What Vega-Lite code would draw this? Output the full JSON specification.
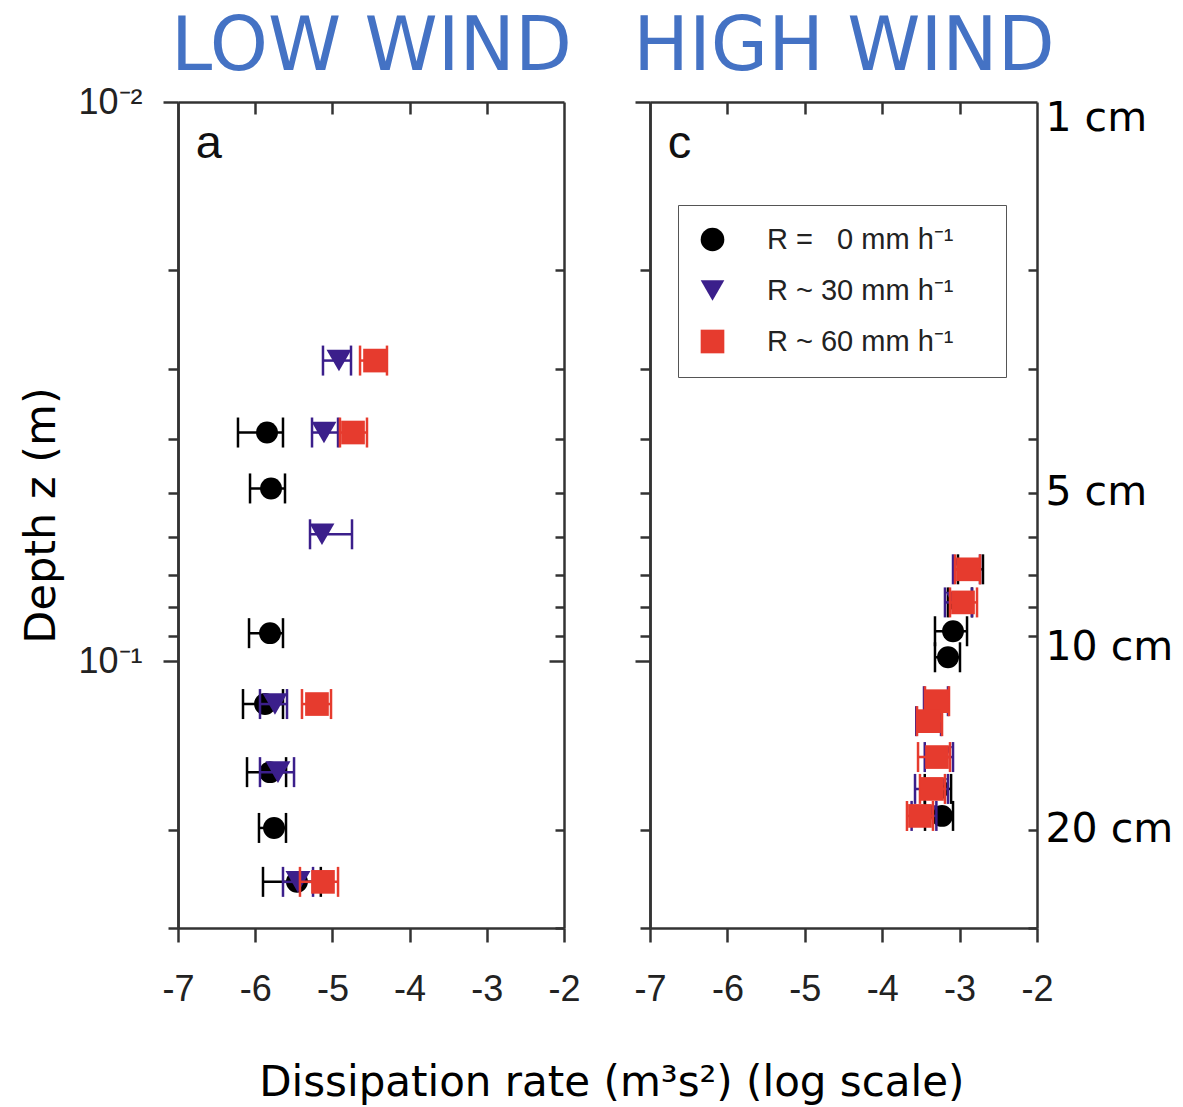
{
  "$schema": "https://vega.github.io/schema/vega-lite/v6.json",
  "padding": {"left": 20, "top": 10, "right": 5, "bottom": 5},
  "background": "white",
  "data": {"values": [
    {"panel": "a", "R": "0", "z": 0.0390, "x": -5.847, "lo": -6.223, "hi": -5.640},
    {"panel": "a", "R": "0", "z": 0.0491, "x": -5.795, "lo": -6.067, "hi": -5.614},
    {"panel": "a", "R": "0", "z": 0.0891, "x": -5.808, "lo": -6.080, "hi": -5.640},
    {"panel": "a", "R": "0", "z": 0.1193, "x": -5.873, "lo": -6.158, "hi": -5.640},
    {"panel": "a", "R": "0", "z": 0.1579, "x": -5.808, "lo": -6.106, "hi": -5.600},
    {"panel": "a", "R": "0", "z": 0.1987, "x": -5.756, "lo": -5.951, "hi": -5.601},
    {"panel": "a", "R": "0", "z": 0.2481, "x": -5.459, "lo": -5.899, "hi": -5.150},
    {"panel": "a", "R": "30", "z": 0.0290, "x": -4.915, "lo": -5.122, "hi": -4.759},
    {"panel": "a", "R": "30", "z": 0.0390, "x": -5.109, "lo": -5.264, "hi": -4.927},
    {"panel": "a", "R": "30", "z": 0.0593, "x": -5.135, "lo": -5.290, "hi": -4.746},
    {"panel": "a", "R": "30", "z": 0.1193, "x": -5.744, "lo": -5.938, "hi": -5.588},
    {"panel": "a", "R": "30", "z": 0.1579, "x": -5.705, "lo": -5.938, "hi": -5.497},
    {"panel": "a", "R": "30", "z": 0.2481, "x": -5.446, "lo": -5.640, "hi": -5.251},
    {"panel": "a", "R": "60", "z": 0.0290, "x": -4.448, "lo": -4.642, "hi": -4.293},
    {"panel": "a", "R": "60", "z": 0.0390, "x": -4.733, "lo": -4.902, "hi": -4.552},
    {"panel": "a", "R": "60", "z": 0.1193, "x": -5.200, "lo": -5.394, "hi": -5.018},
    {"panel": "a", "R": "60", "z": 0.2481, "x": -5.122, "lo": -5.420, "hi": -4.927},
    {"panel": "c", "R": "0", "z": 0.0685, "x": -2.866, "lo": -3.021, "hi": -2.698},
    {"panel": "c", "R": "0", "z": 0.0785, "x": -2.995, "lo": -3.150, "hi": -2.840},
    {"panel": "c", "R": "0", "z": 0.0884, "x": -3.085, "lo": -3.318, "hi": -2.904},
    {"panel": "c", "R": "0", "z": 0.0984, "x": -3.150, "lo": -3.318, "hi": -2.995},
    {"panel": "c", "R": "0", "z": 0.1692, "x": -3.280, "lo": -3.450, "hi": -3.110},
    {"panel": "c", "R": "0", "z": 0.1891, "x": -3.227, "lo": -3.447, "hi": -3.085},
    {"panel": "c", "R": "30", "z": 0.0685, "x": -2.930, "lo": -3.085, "hi": -2.736},
    {"panel": "c", "R": "30", "z": 0.0785, "x": -3.021, "lo": -3.189, "hi": -2.840},
    {"panel": "c", "R": "30", "z": 0.1179, "x": -3.300, "lo": -3.460, "hi": -3.150},
    {"panel": "c", "R": "30", "z": 0.1280, "x": -3.400, "lo": -3.560, "hi": -3.240},
    {"panel": "c", "R": "30", "z": 0.1484, "x": -3.253, "lo": -3.450, "hi": -3.085},
    {"panel": "c", "R": "30", "z": 0.1692, "x": -3.318, "lo": -3.576, "hi": -3.150},
    {"panel": "c", "R": "30", "z": 0.1891, "x": -3.450, "lo": -3.620, "hi": -3.300},
    {"panel": "c", "R": "60", "z": 0.0685, "x": -2.891, "lo": -3.059, "hi": -2.736},
    {"panel": "c", "R": "60", "z": 0.0785, "x": -2.956, "lo": -3.124, "hi": -2.775},
    {"panel": "c", "R": "60", "z": 0.1179, "x": -3.292, "lo": -3.447, "hi": -3.137},
    {"panel": "c", "R": "60", "z": 0.1280, "x": -3.395, "lo": -3.550, "hi": -3.227},
    {"panel": "c", "R": "60", "z": 0.1484, "x": -3.292, "lo": -3.537, "hi": -3.124},
    {"panel": "c", "R": "60", "z": 0.1692, "x": -3.357, "lo": -3.512, "hi": -3.189},
    {"panel": "c", "R": "60", "z": 0.1891, "x": -3.512, "lo": -3.680, "hi": -3.344}
  ]},
  "title": {"text": "Dissipation rate (m³s²) (log scale)", "orient": "bottom", "anchor": "middle", "font": "DejaVu Sans", "fontSize": 42, "fontWeight": "normal", "color": "#000", "offset": 56, "dx": 15},
  "spacing": 51,
  "resolve": {"scale": {"color": "independent", "shape": "independent"}},
  "hconcat": [
    {
      "width": 386, "height": 826,
      "transform": [{"filter": "datum.panel == 'a'"}],
      "resolve": {"axis": {"x": "independent", "y": "independent"}},
      "layer": [
        {"transform": [{"filter": "datum.R == '0'"}], "mark": {"type": "rule", "strokeWidth": 2.5},
         "encoding": {
           "x": {"field": "lo", "type": "quantitative", "scale": {"domain": [-7, -2], "nice": false, "zero": false},
                 "axis": {"orient": "bottom", "values": [-7, -6, -5, -4, -3, -2], "labelExpr": "toString(datum.value)", "labelFont": "Liberation Sans", "labelFontSize": 36, "labelColor": "#222", "labelFlush": false, "labelOverlap": false, "labelPadding": 30, "tickSize": 14, "tickWidth": 2.5, "tickColor": "#333", "domainColor": "#333", "domainWidth": 2.5, "grid": false, "title": null}},
           "x2": {"field": "hi"},
           "y": {"field": "z", "type": "quantitative", "scale": {"type": "log", "domain": [0.01, 0.3], "reverse": true, "nice": false},
                 "axis": {"orient": "left", "values": [0.01, 0.1], "labelExpr": "datum.value < 0.05 ? '10⁻²' : '10⁻¹'", "labelFont": "Liberation Sans", "labelFontSize": 36, "labelColor": "#222", "labelPadding": 21, "labelOverlap": false, "labelFlush": false, "tickSize": 15, "tickWidth": 2.5, "tickColor": "#333", "domainColor": "#333", "domainWidth": 2.5, "grid": false, "title": "Depth z (m)", "titleFont": "DejaVu Sans", "titleFontSize": 43, "titleFontWeight": "normal", "titleColor": "#000", "titlePadding": 14}},
           "color": {"field": "R", "type": "nominal", "scale": {"domain": ["0", "30", "60"], "range": ["#000000", "#3b1f8b", "#e63b2e"]}, "legend": null}
         }},
        {"transform": [{"filter": "datum.R == '0'"}, {"fold": ["lo", "hi"], "as": ["end", "xe"]}], "mark": {"type": "tick", "orient": "vertical", "size": 30, "thickness": 2.5, "opacity": 1},
         "encoding": {
           "x": {"field": "xe", "type": "quantitative", "scale": {"domain": [-7, -2], "nice": false, "zero": false},
                 "axis": {"orient": "top", "values": [-6, -5, -4, -3], "labels": false, "tickSize": -12, "tickWidth": 2.5, "tickColor": "#333", "domainColor": "#333", "domainWidth": 2.5, "grid": false,
                          "title": "LOW WIND", "titleFont": "DejaVu Sans", "titleFontSize": 74, "titleFontWeight": "normal", "titleColor": "#4472C4", "titleBaseline": "alphabetic", "titlePadding": 31}},
           "y": {"field": "z", "type": "quantitative", "scale": {"type": "log", "domain": [0.01, 0.3], "reverse": true, "nice": false},
                 "axis": {"orient": "left", "values": [0.02, 0.03, 0.04, 0.05, 0.06, 0.07, 0.08, 0.09, 0.2, 0.3], "labels": false, "tickSize": 10, "tickWidth": 2.5, "tickColor": "#333", "domainColor": "#333", "domainWidth": 2.5, "grid": false, "title": null}},
           "color": {"field": "R", "type": "nominal", "legend": null}
         }},
        {"transform": [{"filter": "datum.R == '0'"}], "mark": {"type": "point", "filled": true, "size": 480, "opacity": 1},
         "encoding": {
           "x": {"field": "x", "type": "quantitative", "axis": null},
           "y": {"field": "z", "type": "quantitative",
                 "axis": {"orient": "right", "values": [0.02, 0.03, 0.04, 0.05, 0.06, 0.07, 0.08, 0.09, 0.2, 0.3], "labels": false, "tickSize": -9, "tickWidth": 2.5, "tickColor": "#333", "domainColor": "#333", "domainWidth": 2.5, "grid": false, "title": null}},
           "color": {"field": "R", "type": "nominal", "legend": null},
           "shape": {"field": "R", "type": "nominal", "scale": {"domain": ["0", "30", "60"], "range": ["circle", "triangle-down", "square"]}, "legend": null}
         }},
        {"transform": [{"filter": "datum.R == '30'"}], "mark": {"type": "rule", "strokeWidth": 2.5},
         "encoding": {
           "x": {"field": "lo", "type": "quantitative", "axis": null},
           "x2": {"field": "hi"},
           "y": {"field": "z", "type": "quantitative",
                 "axis": {"orient": "right", "values": [0.1], "labels": false, "tickSize": -15, "tickWidth": 2.5, "tickColor": "#333", "domain": false, "grid": false, "title": null}},
           "color": {"field": "R", "type": "nominal", "legend": null}
         }},
        {"transform": [{"filter": "datum.R == '30'"}, {"fold": ["lo", "hi"], "as": ["end", "xe"]}], "mark": {"type": "tick", "orient": "vertical", "size": 30, "thickness": 2.5, "opacity": 1},
         "encoding": {
           "x": {"field": "xe", "type": "quantitative", "axis": null},
           "y": {"field": "z", "type": "quantitative", "axis": null},
           "color": {"field": "R", "type": "nominal", "legend": null}
         }},
        {"transform": [{"filter": "datum.R == '30'"}], "mark": {"type": "point", "filled": true, "size": 620, "opacity": 1},
         "encoding": {
           "x": {"field": "x", "type": "quantitative", "axis": null},
           "y": {"field": "z", "type": "quantitative", "axis": null},
           "color": {"field": "R", "type": "nominal", "legend": null},
           "shape": {"field": "R", "type": "nominal", "legend": null}
         }},
        {"transform": [{"filter": "datum.R == '60'"}], "mark": {"type": "rule", "strokeWidth": 2.5},
         "encoding": {
           "x": {"field": "lo", "type": "quantitative", "axis": null},
           "x2": {"field": "hi"},
           "y": {"field": "z", "type": "quantitative", "axis": null},
           "color": {"field": "R", "type": "nominal", "legend": null}
         }},
        {"transform": [{"filter": "datum.R == '60'"}, {"fold": ["lo", "hi"], "as": ["end", "xe"]}], "mark": {"type": "tick", "orient": "vertical", "size": 30, "thickness": 2.5, "opacity": 1},
         "encoding": {
           "x": {"field": "xe", "type": "quantitative", "axis": null},
           "y": {"field": "z", "type": "quantitative", "axis": null},
           "color": {"field": "R", "type": "nominal", "legend": null}
         }},
        {"transform": [{"filter": "datum.R == '60'"}], "mark": {"type": "point", "filled": true, "size": 560, "opacity": 1},
         "encoding": {
           "x": {"field": "x", "type": "quantitative", "axis": null},
           "y": {"field": "z", "type": "quantitative", "axis": null},
           "color": {"field": "R", "type": "nominal", "legend": null},
           "shape": {"field": "R", "type": "nominal", "legend": null}
         }},
        {"data": {"values": [{"panel": "a", "t": "a"}]},
         "mark": {"type": "text", "font": "Liberation Sans", "fontSize": 47, "align": "left", "baseline": "alphabetic", "color": "#111"},
         "encoding": {
           "text": {"field": "t"},
           "x": {"datum": -6.77, "type": "quantitative", "axis": null},
           "y": {"datum": 0.01259, "type": "quantitative", "axis": null}
         }}
      ]
    },
    {
      "width": 387, "height": 826,
      "transform": [{"filter": "datum.panel == 'c'"}],
      "resolve": {"axis": {"x": "independent", "y": "independent"}},
      "layer": [
        {"transform": [{"filter": "datum.R == '0'"}], "mark": {"type": "rule", "strokeWidth": 2.5},
         "encoding": {
           "x": {"field": "lo", "type": "quantitative", "scale": {"domain": [-7, -2], "nice": false, "zero": false},
                 "axis": {"orient": "bottom", "values": [-7, -6, -5, -4, -3, -2], "labelExpr": "toString(datum.value)", "labelFont": "Liberation Sans", "labelFontSize": 36, "labelColor": "#222", "labelFlush": false, "labelOverlap": false, "labelPadding": 30, "tickSize": 14, "tickWidth": 2.5, "tickColor": "#333", "domainColor": "#333", "domainWidth": 2.5, "grid": false, "title": null}},
           "x2": {"field": "hi"},
           "y": {"field": "z", "type": "quantitative", "scale": {"type": "log", "domain": [0.01, 0.3], "reverse": true, "nice": false},
                 "axis": {"orient": "left", "values": [0.01, 0.1], "labels": false, "tickSize": 15, "tickWidth": 2.5, "tickColor": "#333", "domainColor": "#333", "domainWidth": 2.5, "grid": false, "title": null}},
           "color": {"field": "R", "type": "nominal", "scale": {"domain": ["0", "30", "60"], "range": ["#000000", "#3b1f8b", "#e63b2e"]},
                     "legend": {"orient": "none", "legendX": 28, "legendY": 103, "title": null, "direction": "vertical", "padding": 20, "strokeColor": "#555", "fillColor": "white", "labelFont": "Liberation Sans", "labelFontSize": 29, "labelColor": "#222", "labelOffset": 40, "labelLimit": 500, "symbolSize": 560, "symbolStrokeWidth": 0, "rowPadding": 21, "labelExpr": "(datum.label == '0' ? 'R = \u00a0\u00a00 mm h⁻¹' : 'R ~ ' + datum.label + ' mm h⁻¹') + '\u00a0\u00a0\u00a0\u00a0\u200b'"}}
         }},
        {"transform": [{"filter": "datum.R == '0'"}, {"fold": ["lo", "hi"], "as": ["end", "xe"]}], "mark": {"type": "tick", "orient": "vertical", "size": 30, "thickness": 2.5, "opacity": 1},
         "encoding": {
           "x": {"field": "xe", "type": "quantitative", "scale": {"domain": [-7, -2], "nice": false, "zero": false},
                 "axis": {"orient": "top", "values": [-6, -5, -4, -3], "labels": false, "tickSize": -12, "tickWidth": 2.5, "tickColor": "#333", "domainColor": "#333", "domainWidth": 2.5, "grid": false,
                          "title": "HIGH WIND", "titleFont": "DejaVu Sans", "titleFontSize": 74, "titleFontWeight": "normal", "titleColor": "#4472C4", "titleBaseline": "alphabetic", "titlePadding": 31}},
           "y": {"field": "z", "type": "quantitative", "scale": {"type": "log", "domain": [0.01, 0.3], "reverse": true, "nice": false},
                 "axis": {"orient": "left", "values": [0.02, 0.03, 0.04, 0.05, 0.06, 0.07, 0.08, 0.09, 0.2, 0.3], "labels": false, "tickSize": 10, "tickWidth": 2.5, "tickColor": "#333", "domainColor": "#333", "domainWidth": 2.5, "grid": false, "title": null}},
           "color": {"field": "R", "type": "nominal"}
         }},
        {"transform": [{"filter": "datum.R == '0'"}], "mark": {"type": "point", "filled": true, "size": 480, "opacity": 1},
         "encoding": {
           "x": {"field": "x", "type": "quantitative", "axis": null},
           "y": {"field": "z", "type": "quantitative",
                 "axis": {"orient": "right", "values": [0.02, 0.03, 0.04, 0.05, 0.06, 0.07, 0.08, 0.09, 0.2, 0.3], "labels": false, "tickSize": -9, "tickWidth": 2.5, "tickColor": "#333", "domainColor": "#333", "domainWidth": 2.5, "grid": false, "title": null}},
           "color": {"field": "R", "type": "nominal"},
           "shape": {"field": "R", "type": "nominal", "scale": {"domain": ["0", "30", "60"], "range": ["circle", "triangle-down", "square"]}}
         }},
        {"transform": [{"filter": "datum.R == '30'"}], "mark": {"type": "rule", "strokeWidth": 2.5},
         "encoding": {
           "x": {"field": "lo", "type": "quantitative", "axis": null},
           "x2": {"field": "hi"},
           "y": {"field": "z", "type": "quantitative",
                 "axis": {"orient": "right", "values": [0.0107, 0.05, 0.0945, 0.2], "labelExpr": "datum.value < 0.02 ? '1 cm' : datum.value < 0.07 ? '5 cm' : datum.value < 0.15 ? '10 cm' : '20 cm'", "labelFont": "DejaVu Sans", "labelFontSize": 41, "labelColor": "#000", "labelPadding": 8, "labelAlign": "left", "labelBaseline": "middle", "labelOverlap": false, "labelFlush": false, "ticks": false, "domain": false, "grid": false, "title": null}},
           "color": {"field": "R", "type": "nominal"}
         }},
        {"transform": [{"filter": "datum.R == '30'"}, {"fold": ["lo", "hi"], "as": ["end", "xe"]}], "mark": {"type": "tick", "orient": "vertical", "size": 30, "thickness": 2.5, "opacity": 1},
         "encoding": {
           "x": {"field": "xe", "type": "quantitative", "axis": null},
           "y": {"field": "z", "type": "quantitative", "axis": null},
           "color": {"field": "R", "type": "nominal"}
         }},
        {"transform": [{"filter": "datum.R == '30'"}], "mark": {"type": "point", "filled": true, "size": 620, "opacity": 1},
         "encoding": {
           "x": {"field": "x", "type": "quantitative", "axis": null},
           "y": {"field": "z", "type": "quantitative", "axis": null},
           "color": {"field": "R", "type": "nominal"},
           "shape": {"field": "R", "type": "nominal"}
         }},
        {"transform": [{"filter": "datum.R == '60'"}], "mark": {"type": "rule", "strokeWidth": 2.5},
         "encoding": {
           "x": {"field": "lo", "type": "quantitative", "axis": null},
           "x2": {"field": "hi"},
           "y": {"field": "z", "type": "quantitative", "axis": null},
           "color": {"field": "R", "type": "nominal"}
         }},
        {"transform": [{"filter": "datum.R == '60'"}, {"fold": ["lo", "hi"], "as": ["end", "xe"]}], "mark": {"type": "tick", "orient": "vertical", "size": 30, "thickness": 2.5, "opacity": 1},
         "encoding": {
           "x": {"field": "xe", "type": "quantitative", "axis": null},
           "y": {"field": "z", "type": "quantitative", "axis": null},
           "color": {"field": "R", "type": "nominal"}
         }},
        {"transform": [{"filter": "datum.R == '60'"}], "mark": {"type": "point", "filled": true, "size": 560, "opacity": 1},
         "encoding": {
           "x": {"field": "x", "type": "quantitative", "axis": null},
           "y": {"field": "z", "type": "quantitative", "axis": null},
           "color": {"field": "R", "type": "nominal"},
           "shape": {"field": "R", "type": "nominal"}
         }},
        {"data": {"values": [{"panel": "c", "t": "c"}]},
         "mark": {"type": "text", "font": "Liberation Sans", "fontSize": 47, "align": "left", "baseline": "alphabetic", "color": "#111"},
         "encoding": {
           "text": {"field": "t"},
           "x": {"datum": -6.77, "type": "quantitative", "axis": null},
           "y": {"datum": 0.01259, "type": "quantitative", "axis": null}
         }}
      ]
    }
  ],
  "config": {"view": {"stroke": null}}
}
